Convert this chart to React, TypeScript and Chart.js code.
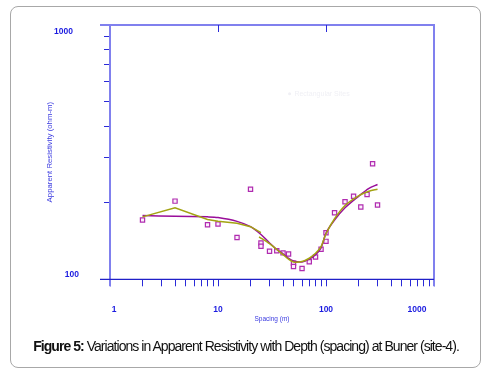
import React, { useEffect, useRef } from "react";
import { Chart, registerables } from "chart.js";

Chart.register(...registerables);

// Observed apparent resistivity (squares)
const obsSpacing = [2, 4, 8, 10, 15, 20, 25, 25, 30, 35, 40, 45, 50, 50, 60, 70, 80, 90, 100, 100, 120, 150, 180, 210, 240, 270, 300];
const obsRho = [171, 203, 164, 165, 146, 226, 139, 135, 129, 129.5, 127, 125.7, 115.6, 112.3, 110.3, 117.3, 122.3, 131.2, 141, 152.4, 182.6, 201.8, 212.1, 192.3, 215.4, 284.6, 195.8];

// Model curve (magenta)
const modelSpacing = [2, 4, 8, 10, 15, 20, 25, 30, 35, 40, 45, 50, 60, 70, 80, 90, 100, 120, 150, 200, 250, 300];
const modelRho = [178, 177, 176, 175, 169, 161, 150, 139, 131, 126, 121, 118, 117, 120, 125, 133, 152, 171, 191, 212, 228, 236];

// Smoothed curve (olive), two segments
const olive1Spacing = [2, 4, 8, 10, 15, 20, 25];
const olive1Rho = [176, 191, 172, 169, 166, 161, 152.7];
const olive2Spacing = [24, 30, 35, 40, 45, 50, 60, 70, 80, 90, 100, 120, 150, 200, 250, 300];
const olive2Rho = [147, 138, 131, 125, 120, 117, 117.5, 121, 126.5, 134.5, 151, 173, 195, 213, 222, 226];

const xTickValues = [1, 2, 3, 4, 5, 6, 7, 8, 9, 10, 20, 30, 40, 50, 60, 70, 80, 90, 100, 200, 300, 400, 500, 600, 700, 800, 900, 1000];
const yTickValues = [100, 200, 300, 400, 500, 600, 700, 800, 900, 1000];
const xLabels = ["1", "10", "100", "1000"];
const yLabels = ["100", "1000"];

const xTitle = "Spacing (m)";
const yTitle = "Apparent Resistivity (ohm-m)";
const legendText = "Rectangular Sites";
const captionBold = "Figure 5:";
const captionRest = " Variations in Apparent Resistivity with Depth (spacing) at Buner (site-4).";

const pts = (xs: number[], ys: number[]) => xs.map((x, i) => ({ x, y: ys[i] }));

const framePlugin = {
  id: "frame",
  afterDraw(chart: any) {
    const { ctx, chartArea: a, scales } = chart;
    const xs = scales.x;
    const ys = scales.y;
    const seg = (x1: number, y1: number, x2: number, y2: number) => {
      ctx.beginPath();
      ctx.moveTo(x1, y1);
      ctx.lineTo(x2, y2);
      ctx.stroke();
    };
    ctx.save();
    // light blue frame
    ctx.strokeStyle = "#8080ee";
    ctx.lineWidth = 2;
    seg(a.left - 10, a.top, a.right + 1, a.top);
    seg(a.left, a.top, a.left, a.bottom + 7);
    seg(a.right, a.top, a.right, a.bottom + 7);
    // bottom axis line
    ctx.strokeStyle = "#2020c8";
    ctx.lineWidth = 1.2;
    seg(a.left - 10, a.bottom, a.right, a.bottom);
    // top ticks
    ctx.strokeStyle = "#2a2ad8";
    ctx.lineWidth = 1;
    [10, 100].forEach((v) => {
      const px = Math.round(xs.getPixelForValue(v)) + 0.5;
      seg(px, a.top, px, a.top + 7);
    });
    // tick labels
    ctx.fillStyle = "#1c1ce0";
    ctx.font = 'bold 8.5px "Liberation Sans", Arial, sans-serif';
    ctx.textBaseline = "middle";
    ctx.textAlign = "center";
    const xOff: Record<string, number> = { "1": 4, "10": 0, "100": 0, "1000": -17 };
    xLabels.forEach((l) => {
      ctx.fillText(l, xs.getPixelForValue(Number(l)) + xOff[l], a.bottom + 30);
    });
    ctx.textAlign = "right";
    const yOff: Record<string, [number, number]> = { "100": [-31, -5], "1000": [-37, 7] };
    yLabels.forEach((l) => {
      const [dx, dy] = yOff[l];
      ctx.fillText(l, a.left + dx, ys.getPixelForValue(Number(l)) + dy);
    });
    // faint legend
    ctx.fillStyle = "#f0f0f5";
    ctx.beginPath();
    ctx.arc(xs.getPixelForValue(46), ys.getPixelForValue(537), 1.5, 0, Math.PI * 2);
    ctx.fill();
    ctx.font = '7px "Liberation Sans", Arial, sans-serif';
    ctx.textAlign = "left";
    ctx.fillText(legendText, xs.getPixelForValue(51), ys.getPixelForValue(537));
    ctx.restore();
  },
};

export default function App() {
  const ref = useRef<HTMLCanvasElement | null>(null);
  useEffect(() => {
    if (!ref.current) return;
    const chart = new Chart(ref.current, {
      type: "line",
      data: {
        datasets: [
          {
            label: "Olive 1",
            data: pts(olive1Spacing, olive1Rho),
            borderColor: "#a3a312",
            borderWidth: 1.5,
            pointRadius: 0,
            tension: 0,
            order: 0,
          },
          {
            label: "Olive 2",
            data: pts(olive2Spacing, olive2Rho),
            borderColor: "#a3a312",
            borderWidth: 1.5,
            pointRadius: 0,
            tension: 0.3,
            order: 0,
          },
          {
            label: "Model",
            data: pts(modelSpacing, modelRho),
            borderColor: "#9a0e9a",
            borderWidth: 1.5,
            pointRadius: 0,
            tension: 0.3,
            order: 1,
          },
          {
            label: "Observed",
            data: pts(obsSpacing, obsRho),
            showLine: false,
            pointStyle: "rect",
            pointRadius: 3,
            pointBorderWidth: 1.2,
            pointBorderColor: "#b02cb0",
            pointBackgroundColor: "#fbeefb",
            order: 2,
          },
        ],
      },
      options: {
        responsive: false,
        animation: false,
        events: [],
        layout: { padding: { top: 25, right: 53, bottom: 0, left: 0 } },
        plugins: { legend: { display: false }, tooltip: { enabled: false } },
        scales: {
          x: {
            type: "logarithmic",
            min: 1,
            max: 1000,
            position: "bottom",
            afterBuildTicks: (s: any) => {
              s.ticks = xTickValues.map((v) => ({ value: v }));
            },
            afterFit: (s: any) => {
              s.height = 90.7;
            },
            grid: { display: true, drawOnChartArea: false, drawTicks: true, tickLength: 7, color: "#2a2ad8", lineWidth: 1 },
            border: { display: false },
            ticks: { display: false },
            title: {
              display: true,
              text: xTitle,
              color: "#3a3ae0",
              font: { family: '"Liberation Sans", Arial, sans-serif', size: 6.5 },
              padding: { top: 0, bottom: 47 },
            },
          },
          y: {
            type: "logarithmic",
            min: 100,
            max: 1000,
            position: "left",
            afterBuildTicks: (s: any) => {
              s.ticks = yTickValues.map((v) => ({ value: v }));
            },
            afterFit: (s: any) => {
              s.width = 110;
            },
            grid: { display: true, drawOnChartArea: false, drawTicks: true, tickLength: 6, color: "#2a2ad8", lineWidth: 1 },
            border: { display: false },
            ticks: { display: false },
            title: {
              display: true,
              text: yTitle,
              color: "#3a3ae0",
              font: { family: '"Liberation Sans", Arial, sans-serif', size: 7.8 },
              padding: { top: 45, bottom: 0 },
            },
          },
        },
      },
      plugins: [framePlugin],
    } as any);
    return () => chart.destroy();
  }, []);

  return (
    <div style={{ position: "fixed", left: 0, top: 0, width: 487, height: 370, background: "#fff", overflow: "hidden" }}>
      <div
        style={{
          position: "absolute",
          left: 10,
          top: 6,
          width: 471,
          height: 362,
          border: "1px solid #a8a8a8",
          borderRadius: 8,
          boxSizing: "border-box",
        }}
      />
      <canvas ref={ref} width={487} height={370} style={{ position: "absolute", left: 0, top: 0, width: 487, height: 370 }} />
      <div
        style={{
          position: "absolute",
          left: 0,
          width: 492,
          top: 337,
          textAlign: "center",
          fontFamily: '"Liberation Sans", Arial, sans-serif',
          fontSize: 14,
          letterSpacing: -0.95,
          color: "#111",
          whiteSpace: "nowrap",
          lineHeight: "18px",
        }}
      >
        <b>{captionBold}</b>
        {captionRest}
      </div>
    </div>
  );
}
